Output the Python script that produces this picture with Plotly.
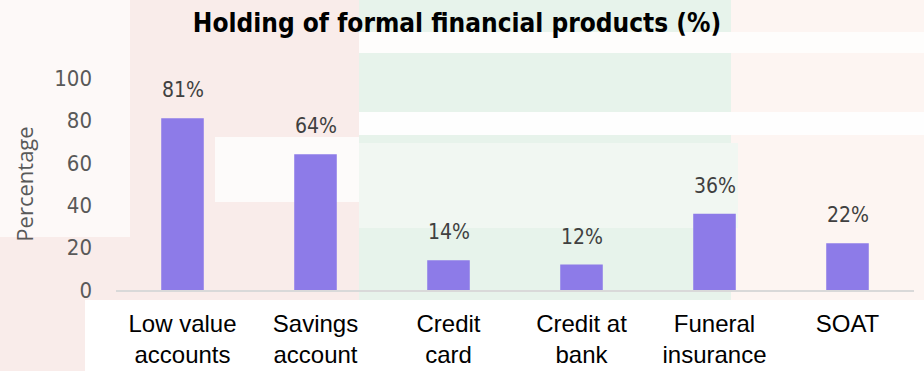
import plotly.graph_objects as go

categories = ["Low value<br>accounts", "Savings<br>account", "Credit<br>card",
              "Credit at<br>bank", "Funeral<br>insurance", "SOAT"]
values = [81, 64, 14, 12, 36, 22]
value_labels = ["81%", "64%", "14%", "12%", "36%", "22%"]
y_ticks = [0, 20, 40, 60, 80, 100]

W, H = 924, 371
L, R, T, B = 116, 10, 78, 81
pw, ph = W - L - R, H - T - B

def px(x0, y0, x1, y1, color):
    return dict(type="rect", xref="paper", yref="paper", layer="below",
                x0=(x0 - L) / pw, x1=(x1 - L) / pw,
                y0=(H - B - y1) / ph, y1=(H - B - y0) / ph,
                fillcolor=color, line_width=0)

shapes = [
    px(0, 0, 924, 371, "#f9ecea"),
    px(0, 0, 130, 237, "#fdf9f8"),
    px(731, 0, 924, 300, "#fdf5f2"),
    px(359, 0, 731, 300, "#e7f3eb"),
    px(359, 32, 924, 53, "#fefdfc"),
    px(359, 112, 924, 135, "#fefefe"),
    px(359, 143, 738, 228, "#f1f7f2"),
    px(215, 137, 359, 202, "#fdfbfa"),
    px(85, 300, 924, 371, "#ffffff"),
]

narrow = "Liberation Sans Narrow, DejaVu Sans Condensed, Arial Narrow"

fig = go.Figure(go.Bar(x=categories, y=values, marker_color="#8d7be8",
                       marker_line_width=0, width=0.32))

for c, v, t in zip(categories, values, value_labels):
    fig.add_annotation(x=c, y=v, text=t, showarrow=False, yanchor="middle",
                       yshift=28, font=dict(family=narrow, size=21, color="#404040"))

fig.update_layout(
    width=W, height=H,
    margin=dict(l=L, r=R, t=T, b=B),
    paper_bgcolor="rgba(0,0,0,0)", plot_bgcolor="rgba(0,0,0,0)",
    shapes=shapes,
    title=dict(text="<b>Holding of formal financial products (%)</b>", x=457 / W, xanchor="center",
               y=1 - 23 / H, yanchor="middle",
               font=dict(family=narrow, size=26, color="#000000")),
    showlegend=False,
    bargap=0.68,
)
fig.update_xaxes(showline=True, linecolor="#d9d9d9", linewidth=2, showgrid=False,
                 ticks="", ticklabelstandoff=11, automargin=False,
                 tickfont=dict(family="Liberation Sans, Arial", size=24, color="#000000"))
fig.update_yaxes(range=[0, 100], tickvals=y_ticks, showgrid=False, zeroline=False,
                 showline=False, ticks="", ticklabelstandoff=23, automargin=False,
                 tickfont=dict(family=narrow, size=22, color="#595959"),
                 title=dict(text="Percentage", standoff=14,
                            font=dict(family="Open Sans, Liberation Sans", size=22, color="#595959")))

fig.write_html("out.html")
